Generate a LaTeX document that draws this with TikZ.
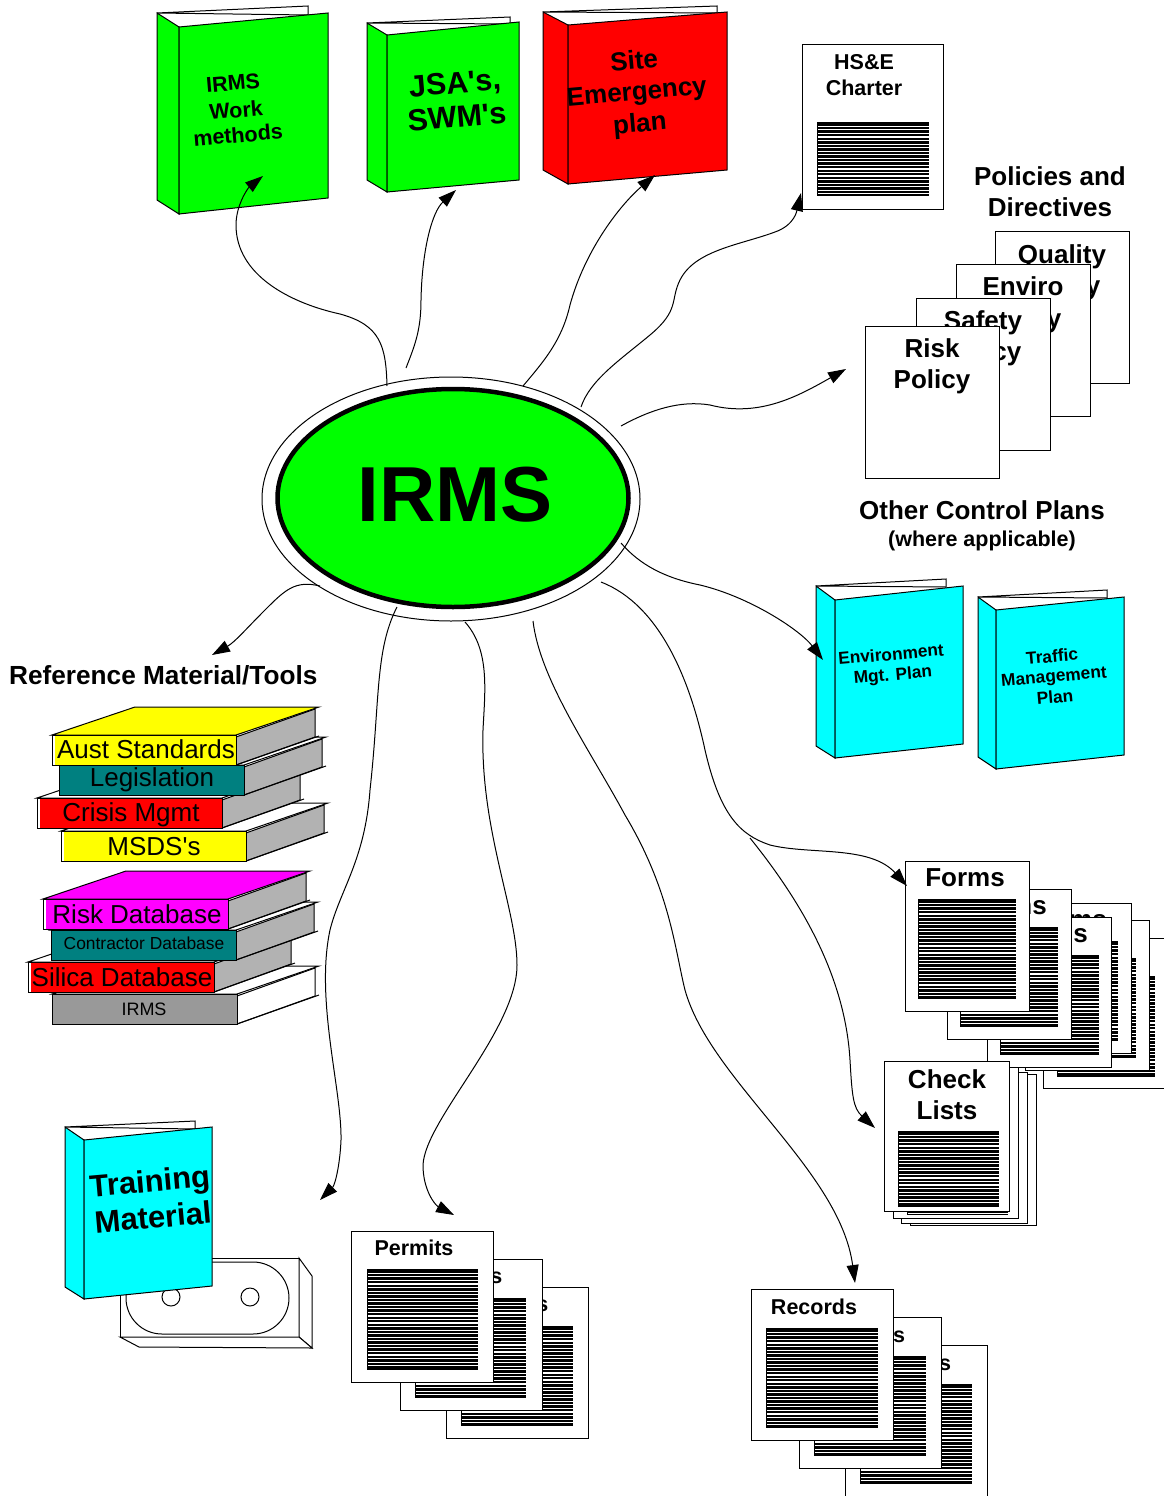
\documentclass[tikz,border=0pt]{standalone}
\usepackage{fontspec}
\setmainfont[Ligatures=TeXOff]{Liberation Sans}
\usetikzlibrary{arrows.meta,shapes.geometric}
\definecolor{cgreen}{HTML}{00FF00}
\definecolor{cred}{HTML}{FF0000}
\definecolor{ccyan}{HTML}{00FFFF}
\definecolor{cyel}{HTML}{FFFF00}
\definecolor{cmag}{HTML}{FF00FF}
\definecolor{cteal}{HTML}{008080}
\definecolor{cside}{HTML}{B2B2B2}
\definecolor{cdark}{HTML}{999999}
\newcommand{\fs}[1]{\fontsize{#1pt}{#1pt}\selectfont}
\newcommand{\sheetat}[5]{\node[sheetbox,minimum width=#4pt,minimum height=#5pt] (#1) at (#2,#3) {};}
\newcommand{\hatchbox}[4]{%
  \fill[black] (#1,#2) rectangle (#3,#4);
  \pgfmathtruncatemacro{\nlines}{floor((#4-#2)/3.55-0.6)}
  \foreach \k in {1,...,\nlines}{\draw[white,line width=1.15pt] ({#1+1},{#2+0.8+\k*3.55}) -- (#3,{#2+0.8+\k*3.55});}
}
\newcommand{\bindershape}[9]{%
  \draw[edge,fill=white] #3 -- #8 -- #9 -- cycle;
  \draw[edge,fill=#1] #3 -- #4 -- #7 -- (#2) -- cycle;
  \draw[edge,fill=#1] #4 -- #5 -- #6 -- #7 -- cycle;
}
\newcommand{\bookshape}[7]{%
  \draw[edge,fill=#6] (#1,#2) -- ({#1+83},{#2-28}) -- ({#1+267},{#2-28}) -- ({#1+#3},#2) -- cycle;
  \draw[edge,fill=#7] ({#1+#3},{#2+2}) -- ({#1+263},{#2-26}) -- ({#1+263},{#2+2}) -- ({#1+#3},{#2+30}) -- cycle;
  \draw[edge] ({#1+#3},{#2+30}) -- ({#1+267},{#2+1});
  \draw[edge,fill=white] (#1,#2) rectangle ({#1+#3},{#2+30});
  \fill[#5] ({#1+#4},{#2+1}) rectangle ({#1+#3-0.5},{#2+29.5});
}
\tikzset{
  edge/.style={draw=black,line width=1pt,line join=miter},
  sheetbox/.style={draw=black,line width=1pt,fill=white,anchor=north west,inner sep=0pt,outer sep=0pt},
  lbl/.style={font=\bfseries,inner sep=0pt,align=center,text=black},
  plain/.style={inner sep=0pt,align=center,text=black},
  link/.style={draw=black,line width=1pt,-{Triangle[length=18pt,width=12pt]}},
}
\begin{document}
\begin{tikzpicture}[x=1pt,y=-1pt]
\clip (0,0) rectangle (1164,1496);
\fill[white] (0,0) rectangle (1164,1496);

% central ellipses
\node[draw=black,line width=1pt,fill=white,ellipse,minimum width=378pt,minimum height=244pt,inner sep=0pt] (outer) at (451,499) {};
\node[draw=black,line width=4.5pt,fill=cgreen,ellipse,minimum width=351pt,minimum height=218pt,inner sep=0pt] (core) at (453,498) {};
\node[lbl,font=\bfseries\fs{78}] (coretxt) at (455,495) {IRMS};

% top binders
\bindershape{cgreen}{157,200}{(157,13)}{(179,27)}{(328,13)}{(328,198)}{(179,214)}{(308,6)}{(308,15)}
\node[lbl,rotate=5,font=\bfseries\fs{21.5}] (b1a) at (233,83) {IRMS};
\node[lbl,rotate=5,font=\bfseries\fs{21.5}] (b1b) at (236,110) {Work};
\node[lbl,rotate=5,font=\bfseries\fs{21.5}] (b1c) at (238,135) {methods};

\bindershape{cgreen}{367,180}{(367,23)}{(387,35)}{(519,22)}{(519,180)}{(387,192)}{(510,17)}{(510,24)}
\node[lbl,rotate=5,font=\bfseries\fs{30.5}] (b2a) at (455,85) {JSA's,};
\node[lbl,rotate=5,font=\bfseries\fs{30.5}] (b2b) at (457,117) {SWM's};

\bindershape{cred}{543,170}{(543,12)}{(568,25)}{(727,12)}{(727,170)}{(568,184)}{(717,6)}{(717,13)}
\node[lbl,rotate=5,font=\bfseries\fs{26}] (b3a) at (634,60) {Site};
\node[lbl,rotate=5,font=\bfseries\fs{26}] (b3b) at (637,94) {Emergency};
\node[lbl,rotate=5,font=\bfseries\fs{26}] (b3c) at (640,125) {plan};

% charter
\sheetat{hse}{802}{45}{141}{164}
\hatchbox{817}{122}{929}{196}
\node[lbl,font=\bfseries\fs{21.5}] (hsea) at (864,62) {HS\&E};
\node[lbl,font=\bfseries\fs{21.5}] (hseb) at (864,88) {Charter};

% policies
\node[lbl,font=\bfseries\fs{26}] (pol1) at (1050,176) {Policies and};
\node[lbl,font=\bfseries\fs{26}] (pol2) at (1050,207) {Directives};
\sheetat{pq}{995}{231}{134}{152}
\node[lbl,font=\bfseries\fs{26}] (pqa) at (1062,257) {Quality};
\node[lbl,font=\bfseries\fs{26}] (pqb) at (1062,288) {Policy};
\sheetat{pe}{956}{264}{134}{152}
\node[lbl,font=\bfseries\fs{26}] (pea) at (1023,286) {Enviro};
\node[lbl,font=\bfseries\fs{26}] (peb) at (1023,321) {Policy};
\sheetat{ps}{916}{298}{134}{152}
\node[lbl,font=\bfseries\fs{26}] (psa) at (983,323) {Safety};
\node[lbl,font=\bfseries\fs{26}] (psb) at (983,354) {Policy};
\sheetat{pr}{865}{326}{134}{152}
\node[lbl,font=\bfseries\fs{26}] (pra) at (932,348) {Risk};
\node[lbl,font=\bfseries\fs{26}] (prb) at (932,382) {Policy};

% other control plans
\node[lbl,font=\bfseries\fs{26}] (ocp1) at (982,510) {Other Control Plans};
\node[lbl,font=\bfseries\fs{21.5}] (ocp2) at (982,541) {(where applicable)};
\bindershape{ccyan}{816,746}{(816,586)}{(835,600)}{(963,586)}{(963,744)}{(835,758)}{(946,579)}{(946,587)}
\node[lbl,rotate=5,font=\bfseries\fs{17.3}] (ca) at (891,654) {Environment};
\node[lbl,rotate=5,font=\bfseries\fs{17.3}] (cb) at (893,676) {Mgt. Plan};
\bindershape{ccyan}{978,757}{(978,597)}{(996,610)}{(1124,597)}{(1124,755)}{(996,769)}{(1107,590)}{(1107,598)}
\node[lbl,rotate=5,font=\bfseries\fs{17.3}] (da) at (1052,656) {Traffic};
\node[lbl,rotate=5,font=\bfseries\fs{17.3}] (db) at (1054,678) {Management};
\node[lbl,rotate=5,font=\bfseries\fs{17.3}] (dc) at (1055,697) {Plan};

% reference material
\node[lbl,font=\bfseries\fs{26.2},anchor=west] (refm) at (9,675) {Reference Material/Tools};
\bookshape{61}{831}{185}{2.5}{cyel}{white}{cside}
\bookshape{37}{798}{185}{2.5}{cred}{white}{cside}
\bookshape{59}{765}{185}{0.5}{cteal}{white}{cside}
\bookshape{52}{735}{184}{2.5}{cyel}{cyel}{cside}
\node[plain,font=\fs{26}] (s1) at (146,749) {Aust Standards};
\node[plain,font=\fs{26}] (s2) at (152,780) {Legislation};
\node[plain,font=\fs{26}] (s3) at (131,815) {Crisis Mgmt};
\node[plain,font=\fs{26}] (s4) at (154,847) {MSDS's};

\bookshape{52}{994}{185}{0.5}{cdark}{white}{white}
\bookshape{28}{962}{186}{2.5}{cred}{white}{cside}
\bookshape{51}{930}{185}{0.5}{cteal}{white}{cside}
\bookshape{43}{899}{185}{2.5}{cmag}{cmag}{cside}
\node[plain,font=\fs{26}] (t1) at (137,914) {Risk Database};
\node[plain,font=\fs{17.4}] (t2) at (144,943) {Contractor Database};
\node[plain,font=\fs{26}] (t3) at (122,977) {Silica Database};
\node[plain,font=\fs{18}] (t4) at (144,1009) {IRMS};

% training + tape
\draw[edge,fill=white] (120,1258) rectangle (299,1337);
\draw[edge,fill=white] (299,1258) -- (312,1276) -- (312,1348) -- (299,1337) -- cycle;
\draw[edge,fill=white] (120,1337) -- (139,1347) -- (312,1348) -- (299,1337) -- cycle;
\draw[edge,rounded corners=36pt] (126,1262) rectangle (289,1334);
\draw[edge,fill=white] (171,1297) circle[radius=9];
\draw[edge,fill=white] (250,1297) circle[radius=9];
\bindershape{ccyan}{65,1287}{(65,1127)}{(84,1140)}{(212,1127)}{(212,1286)}{(84,1299)}{(195,1121)}{(195,1129)}
\node[lbl,rotate=5,font=\bfseries\fs{31}] (ta) at (150,1184) {Training};
\node[lbl,rotate=5,font=\bfseries\fs{31}] (tb) at (153,1217) {Material};

% permits
\sheetat{p3}{446}{1287}{142}{151}
\hatchbox{461}{1326}{573}{1426}
\node[lbl,font=\bfseries\fs{21.5}] (p3t) at (509,1304) {Permits};
\sheetat{p2}{400}{1259}{142}{151}
\hatchbox{415}{1298}{526}{1398}
\node[lbl,font=\bfseries\fs{21.5}] (p2t) at (463,1276) {Permits};
\sheetat{p1}{351}{1231}{142}{151}
\hatchbox{367}{1269}{478}{1370}
\node[lbl,font=\bfseries\fs{21.5}] (p1t) at (414,1248) {Permits};

% records
\sheetat{r3}{845}{1345}{142}{151}
\hatchbox{860}{1384}{972}{1484}
\node[lbl,font=\bfseries\fs{21.5}] (r3t) at (908,1363) {Records};
\sheetat{r2}{799}{1317}{142}{151}
\hatchbox{814}{1356}{926}{1456}
\node[lbl,font=\bfseries\fs{21.5}] (r2t) at (862,1335) {Records};
\sheetat{r1}{751}{1289}{142}{151}
\hatchbox{766}{1328}{878}{1428}
\node[lbl,font=\bfseries\fs{21.5}] (r1t) at (814,1307) {Records};

% forms
\sheetat{f6}{1043}{938}{124}{150}
\hatchbox{1057}{976}{1155}{1077}
\node[lbl,font=\bfseries\fs{26}] (f6t) at (1105,955) {Forms};
\sheetat{f5}{1025}{920}{124}{150}
\hatchbox{1038}{958}{1136}{1058}
\node[lbl,font=\bfseries\fs{26}] (f5t) at (1087,937) {Forms};
\sheetat{f4}{1007}{903}{124}{150}
\hatchbox{1020}{941}{1118}{1041}
\node[lbl,font=\bfseries\fs{26}] (f4t) at (1067,920) {Forms};
\sheetat{f3}{987}{917}{124}{150}
\hatchbox{1000}{955}{1099}{1055}
\node[lbl,font=\bfseries\fs{26}] (f3t) at (1048,934) {Forms};
\sheetat{f2}{947}{889}{124}{150}
\hatchbox{960}{927}{1058}{1027}
\node[lbl,font=\bfseries\fs{26}] (f2t) at (1007,906) {Forms};
\sheetat{f1}{905}{861}{124}{150}
\hatchbox{918}{899}{1016}{999}
\node[lbl,font=\bfseries\fs{26}] (f1t) at (965,878) {Forms};

% check lists
\sheetat{c4}{910}{1074}{126}{151}
\sheetat{c3}{901}{1072}{126}{151}
\hatchbox{916}{1142}{1017}{1219}
\sheetat{c2}{893}{1067}{125}{151}
\hatchbox{907}{1138}{1008}{1215}
\sheetat{c1}{884}{1061}{125}{150}
\hatchbox{898}{1131}{999}{1207}
\node[lbl,font=\bfseries\fs{26}] (c1a) at (947,1079) {Check};
\node[lbl,font=\bfseries\fs{26}] (c1b) at (947,1110) {Lists};

% connectors
\coordinate (from1) at (387,386);   \coordinate (to1) at (263,176);
\coordinate (from2) at (406,368);   \coordinate (to2) at (456,190);
\coordinate (from3) at (523,386);   \coordinate (to3) at (655,175);
\coordinate (from4) at (581,407);   \coordinate (to4) at (801,193);
\coordinate (from5) at (621,426);   \coordinate (to5) at (846,369);
\coordinate (from6) at (621,543);   \coordinate (to6) at (823,660);
\coordinate (from7) at (320,586);   \coordinate (to7) at (212,655);
\coordinate (from8) at (397,607);   \coordinate (to8) at (320,1200);
\coordinate (from9) at (465,622);   \coordinate (to9) at (454,1215);
\coordinate (from10) at (533,621);  \coordinate (to10) at (855,1283);
\coordinate (from11) at (601,582);  \coordinate (to11) at (907,886);
\coordinate (from12) at (750,838);  \coordinate (to12) at (875,1128);
\draw[link] (from1) .. controls (386,345) and (380,325) .. (340,314) .. controls (290,303) and (236,275) .. (236,225) .. controls (236,205) and (248,188) .. (to1);
\draw[link] (from2) .. controls (415,345) and (421,330) .. (421,300) .. controls (422,250) and (432,212) .. (to2);
\draw[link] (from3) .. controls (545,360) and (562,340) .. (570,305) .. controls (585,250) and (620,205) .. (to3);
\draw[link] (from4) .. controls (590,380) and (620,360) .. (650,335) .. controls (680,310) and (670,300) .. (680,280) .. controls (695,250) and (740,245) .. (775,232) .. controls (795,225) and (797,210) .. (to4);
\draw[link] (from5) .. controls (650,410) and (680,400) .. (710,405) .. controls (760,418) and (800,395) .. (to5);
\draw[link] (from6) .. controls (640,565) and (665,578) .. (700,585) .. controls (750,597) and (800,630) .. (to6);
\draw[link] (from7) .. controls (295,580) and (285,590) .. (265,610) .. controls (245,630) and (235,642) .. (to7);
\draw[link] (from8) .. controls (375,650) and (380,700) .. (370,790) .. controls (365,860) and (340,890) .. (330,930) .. controls (315,1000) and (342,1090) .. (341,1140) .. controls (340,1165) and (335,1185) .. (to8);
\draw[link] (from9) .. controls (490,650) and (485,690) .. (483,730) .. controls (480,830) and (517,910) .. (517,965) .. controls (517,1030) and (425,1120) .. (423,1165) .. controls (423,1190) and (435,1205) .. (to9);
\draw[link] (from10) .. controls (540,680) and (590,750) .. (625,815) .. controls (670,890) and (675,950) .. (685,990) .. controls (710,1080) and (840,1170) .. (to10);
\draw[link] (from11) .. controls (660,605) and (690,680) .. (705,750) .. controls (720,815) and (740,835) .. (770,845) .. controls (810,855) and (870,845) .. (to11);
\draw[link] (from12) .. controls (800,900) and (845,975) .. (850,1060) .. controls (852,1095) and (853,1108) .. (to12);
\end{tikzpicture}
\end{document}
